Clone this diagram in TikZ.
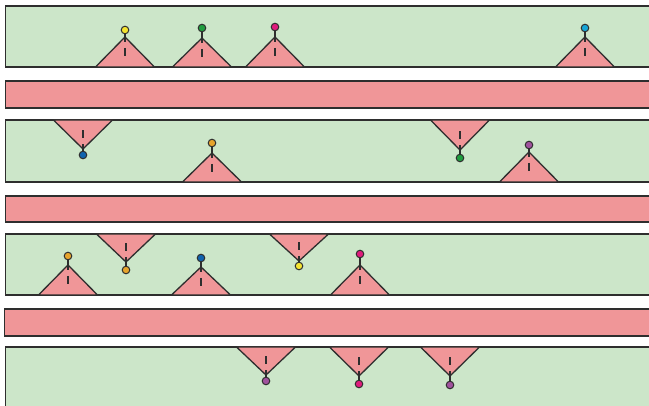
\documentclass[tikz,border=0pt]{standalone}
\usetikzlibrary{calc}
\definecolor{greenf}{HTML}{CCE6C9}
\definecolor{redf}{HTML}{F09698}
\definecolor{lc}{HTML}{2E2E2E}
\definecolor{cyel}{HTML}{F4E431}
\definecolor{cgrn}{HTML}{1F9D3E}
\definecolor{cpnk}{HTML}{DF1C7C}
\definecolor{ccya}{HTML}{16A6D6}
\definecolor{cblu}{HTML}{1063AE}
\definecolor{cora}{HTML}{E6A42C}
\definecolor{cpur}{HTML}{A0529D}
\tikzset{
  gband/.style={fill=greenf,draw=lc,line width=1.4pt},
  rband/.style={fill=redf,draw=lc,line width=1.4pt},
  trishape/.style={fill=redf,draw=lc,line width=1.3pt,line join=miter},
  dotshape/.style={draw=lc,line width=1pt},
}
% x, base y, apex y, dot y, colour
\newcommand\mytri[5]{%
  \pgfmathsetmacro\stemlen{abs(#4-#3)+5}%
  \draw[trishape] (#1-29.5,#2) -- (#1,#3) -- (#1+29.5,#2) -- cycle;
  \draw[lc,line width=1.3pt,dash pattern=on \stemlen pt off 6pt on 8pt off 300pt] (#1,#4) -- (#1,#2);
  \filldraw[dotshape,fill=#5] (#1,#4) circle (3.8);
}
\begin{document}
\begin{tikzpicture}[x=1pt,y=-1pt]
\useasboundingbox (0,0) rectangle (649,406);
\clip (0,0) rectangle (649,406);
\fill[white] (0,0) rectangle (649,406);
% bands
\draw[gband] (5.5,6) rectangle (670,67);
\draw[rband] (5.5,81) rectangle (670,108);
\draw[gband] (5.5,120) rectangle (670,182);
\draw[rband] (5.5,196) rectangle (670,222);
\draw[gband] (5.5,234) rectangle (670,295);
\draw[rband] (4.5,309) rectangle (670,336);
\draw[gband] (5.5,347) rectangle (670,420);
% band 1
\mytri{125}{67}{37}{30}{cyel}
\mytri{202}{67}{38}{28}{cgrn}
\mytri{275}{67}{37}{27}{cpnk}
\mytri{585}{67}{37}{28}{ccya}
% band 2
\mytri{83}{120}{149}{155}{cblu}
\mytri{212}{182}{153}{143}{cora}
\mytri{460}{120}{150}{158}{cgrn}
\mytri{529}{182}{152}{145}{cpur}
% band 3
\mytri{68}{295}{265}{256}{cora}
\mytri{126}{234}{262}{270}{cora}
\mytri{201}{295}{267}{258}{cblu}
\mytri{299}{234}{261}{266}{cyel}
\mytri{360}{295}{265}{254}{cpnk}
% band 4
\mytri{266}{347}{375}{381}{cpur}
\mytri{359}{347}{376}{384}{cpnk}
\mytri{450}{347}{376}{385}{cpur}
\end{tikzpicture}
\end{document}
